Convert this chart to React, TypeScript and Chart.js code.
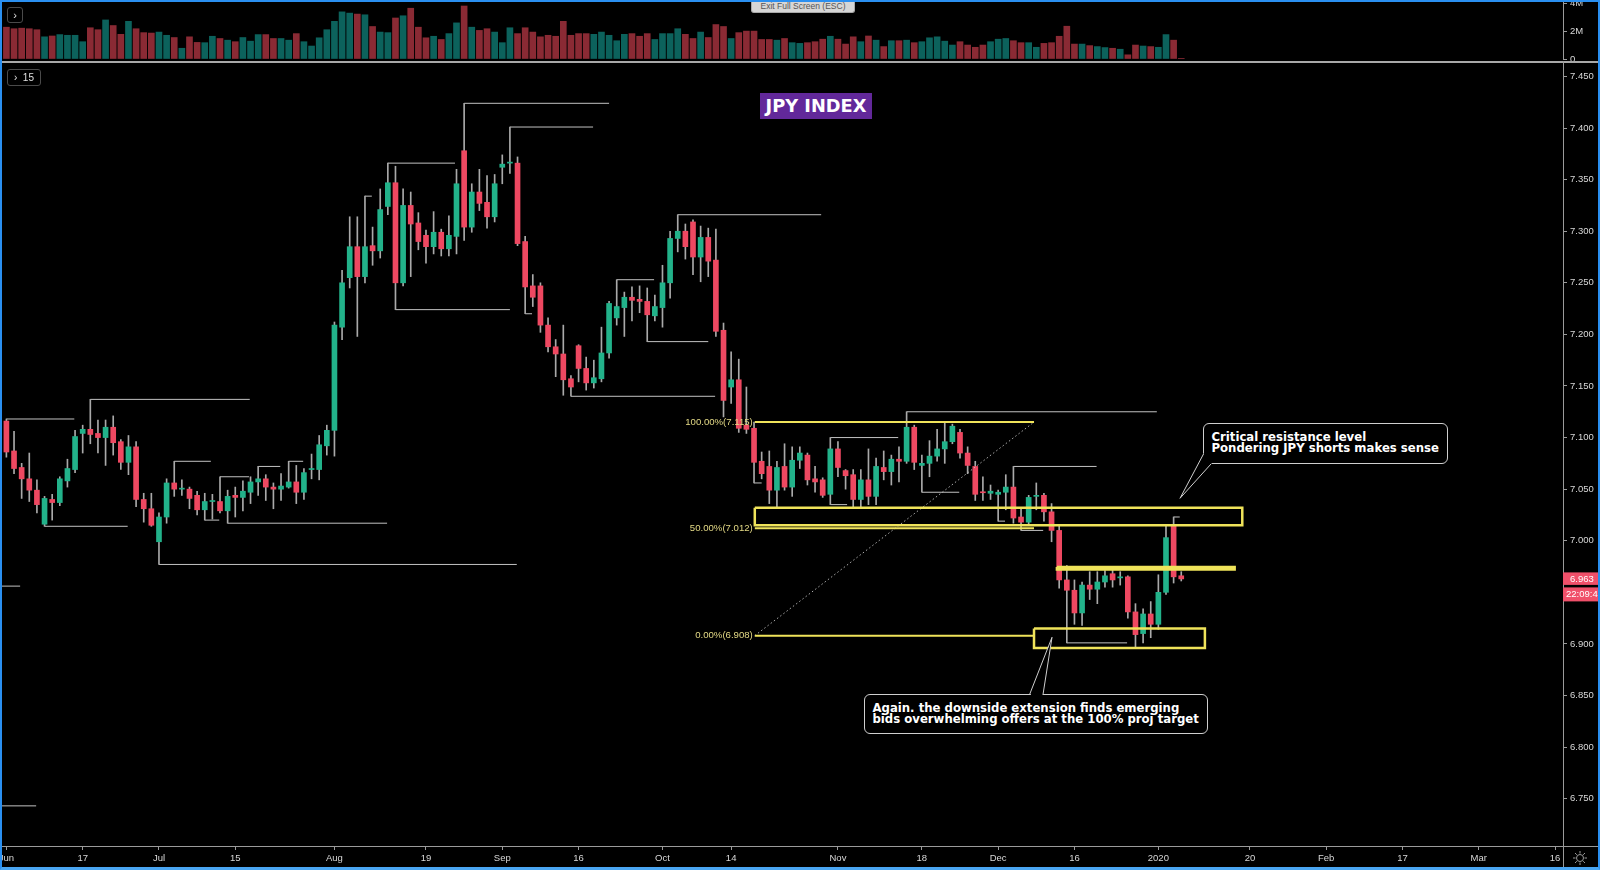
import React, { useEffect, useRef } from "react";
import { Chart, registerables } from "chart.js";

Chart.register(...registerables);

// ---------- DATA (daily bars, index 0 = 3 Jun 2019) ----------
const OPEN = [
  7.116, 7.087, 7.071, 7.060, 7.049, 7.016, 7.040, 7.037, 7.058, 7.069,
  7.104, 7.108, 7.104, 7.100, 7.110, 7.096, 7.076, 7.091, 7.040, 7.031,
  6.999, 7.023, 7.056, 7.050, 7.050, 7.044, 7.030, 7.038, 7.038, 7.029,
  7.044, 7.042, 7.047, 7.057, 7.060, 7.052, 7.050, 7.052, 7.057, 7.047,
  7.069, 7.069, 7.092, 7.107, 7.207, 7.255, 7.285, 7.256, 7.286, 7.281,
  7.324, 7.347, 7.250, 7.325, 7.308, 7.296, 7.285, 7.299, 7.283, 7.295,
  7.378, 7.304, 7.338, 7.328, 7.314, 7.362, 7.366, 7.366, 7.290, 7.247,
  7.247, 7.209, 7.188, 7.181, 7.157, 7.189, 7.167, 7.153, 7.157, 7.182,
  7.216, 7.226, 7.236, 7.234, 7.232, 7.218, 7.226, 7.250, 7.293, 7.300,
  7.309, 7.275, 7.294, 7.272, 7.204, 7.149, 7.156, 7.112, 7.109, 7.077,
  7.072, 7.049, 7.072, 7.052, 7.078, 7.083, 7.060, 7.059, 7.045, 7.089,
  7.068, 7.064, 7.040, 7.059, 7.043, 7.071, 7.067, 7.079, 7.077, 7.110,
  7.073, 7.075, 7.082, 7.089, 7.096, 7.105, 7.085, 7.072, 7.047, 7.046,
  7.045, 7.047, 7.052, 7.023, 7.018, 7.043, 7.044, 7.028, 7.010, 6.962,
  6.952, 6.930, 6.957, 6.953, 6.960, 6.968, 6.964, 6.965, 6.931, 6.910,
  6.929, 6.919, 6.950, 7.014, 6.966,
];
const HIGH = [
  7.118, 7.106, 7.075, 7.085, 7.059, 7.043, 7.045, 7.062, 7.079, 7.107,
  7.112, 7.137, 7.117, 7.117, 7.121, 7.098, 7.102, 7.096, 7.046, 7.046,
  7.027, 7.060, 7.077, 7.059, 7.052, 7.048, 7.046, 7.045, 7.062, 7.049,
  7.052, 7.058, 7.062, 7.072, 7.064, 7.056, 7.065, 7.077, 7.073, 7.070,
  7.084, 7.102, 7.112, 7.212, 7.262, 7.314, 7.314, 7.334, 7.304, 7.341,
  7.366, 7.363, 7.341, 7.338, 7.318, 7.301, 7.319, 7.302, 7.315, 7.360,
  7.424, 7.346, 7.360, 7.354, 7.355, 7.374, 7.401, 7.372, 7.295, 7.258,
  7.250, 7.216, 7.195, 7.209, 7.160, 7.190, 7.178, 7.175, 7.207, 7.232,
  7.253, 7.241, 7.246, 7.247, 7.245, 7.238, 7.267, 7.300, 7.316, 7.307,
  7.311, 7.305, 7.303, 7.302, 7.211, 7.183, 7.176, 7.149, 7.115, 7.086,
  7.087, 7.077, 7.094, 7.091, 7.091, 7.085, 7.072, 7.061, 7.100, 7.096,
  7.069, 7.069, 7.069, 7.089, 7.080, 7.087, 7.083, 7.091, 7.125, 7.112,
  7.083, 7.097, 7.108, 7.114, 7.113, 7.108, 7.091, 7.077, 7.062, 7.054,
  7.049, 7.064, 7.072, 7.031, 7.044, 7.056, 7.046, 7.036, 7.014, 6.976,
  6.962, 6.960, 6.970, 6.970, 6.971, 6.975, 6.970, 6.966, 6.939, 6.934,
  6.941, 6.967, 7.014, 7.023, 6.970,
];
const LOW = [
  7.081, 7.065, 7.041, 7.038, 7.027, 7.014, 7.020, 7.034, 7.052, 7.066,
  7.085, 7.094, 7.085, 7.073, 7.083, 7.069, 7.064, 7.033, 7.018, 7.014,
  6.977, 7.017, 7.043, 7.044, 7.031, 7.025, 7.020, 7.021, 7.027, 7.017,
  7.023, 7.029, 7.036, 7.044, 7.039, 7.031, 7.039, 7.051, 7.036, 7.040,
  7.060, 7.059, 7.083, 7.082, 7.195, 7.245, 7.198, 7.250, 7.267, 7.274,
  7.316, 7.224, 7.247, 7.256, 7.282, 7.269, 7.278, 7.276, 7.276, 7.278,
  7.291, 7.299, 7.320, 7.303, 7.309, 7.346, 7.356, 7.286, 7.220, 7.227,
  7.202, 7.183, 7.159, 7.141, 7.140, 7.154, 7.146, 7.148, 7.154, 7.177,
  7.209, 7.198, 7.213, 7.221, 7.193, 7.213, 7.207, 7.235, 7.280, 7.273,
  7.258, 7.251, 7.256, 7.198, 7.120, 7.133, 7.105, 7.104, 7.056, 7.060,
  7.036, 7.033, 7.049, 7.043, 7.070, 7.054, 7.047, 7.042, 7.035, 7.062,
  7.050, 7.032, 7.033, 7.035, 7.035, 7.059, 7.054, 7.057, 7.075, 7.069,
  7.047, 7.062, 7.077, 7.075, 7.094, 7.080, 7.065, 7.039, 7.039, 7.040,
  7.019, 7.030, 7.017, 7.010, 7.015, 7.030, 7.019, 6.999, 6.954, 6.901,
  6.919, 6.918, 6.943, 6.939, 6.955, 6.955, 6.957, 6.925, 6.897, 6.901,
  6.906, 6.914, 6.948, 6.959, 6.961,
];
const CLOSE = [
  7.086, 7.070, 7.060, 7.049, 7.035, 7.041, 7.037, 7.060, 7.070, 7.101,
  7.108, 7.103, 7.100, 7.110, 7.095, 7.076, 7.091, 7.040, 7.031, 7.015,
  7.023, 7.056, 7.050, 7.0505, 7.041, 7.030, 7.038, 7.0385, 7.029, 7.043,
  7.042, 7.048, 7.057, 7.060, 7.052, 7.050, 7.053, 7.057, 7.047, 7.066,
  7.070, 7.093, 7.107, 7.209, 7.250, 7.285, 7.256, 7.285, 7.281, 7.321,
  7.347, 7.250, 7.325, 7.307, 7.290, 7.285, 7.299, 7.283, 7.296, 7.346,
  7.304, 7.338, 7.327, 7.314, 7.346, 7.365, 7.367, 7.288, 7.246, 7.236,
  7.209, 7.188, 7.181, 7.156, 7.149, 7.167, 7.153, 7.158, 7.182, 7.230,
  7.227, 7.236, 7.233, 7.232, 7.219, 7.227, 7.250, 7.293, 7.300, 7.285,
  7.275, 7.294, 7.271, 7.203, 7.136, 7.156, 7.109, 7.108, 7.076, 7.065,
  7.049, 7.071, 7.052, 7.078, 7.085, 7.059, 7.057, 7.044, 7.089, 7.071,
  7.063, 7.040, 7.059, 7.043, 7.072, 7.067, 7.079, 7.077, 7.110, 7.076,
  7.075, 7.082, 7.089, 7.096, 7.111, 7.085, 7.073, 7.045, 7.0465, 7.048,
  7.047, 7.052, 7.022, 7.018, 7.042, 7.044, 7.028, 7.010, 6.962, 6.952,
  6.930, 6.957, 6.953, 6.960, 6.966, 6.962, 6.965, 6.931, 6.909, 6.929,
  6.919, 6.950, 7.003, 6.965, 6.963,
];
// volume in millions
const VOLUME_M = [
  2.28, 2.17, 2.21, 2.17, 2.1, 1.59, 1.65, 1.75, 1.7, 1.7,
  1.24, 2.24, 2.1, 2.8, 2.4, 1.77, 2.7, 2.17, 1.89, 1.86,
  1.93, 1.7, 1.54, 0.77, 1.59, 1.19, 1.17, 1.63, 1.47, 1.35,
  1.24, 1.54, 1.28, 1.75, 1.75, 1.47, 1.47, 1.35, 1.82, 1.24,
  0.93, 1.52, 2.1, 2.7, 3.38, 3.29, 3.22, 3.17, 2.33, 1.93,
  1.89, 2.94, 3.1, 3.64, 2.28, 1.52, 1.63, 1.4, 1.82, 2.59,
  3.8, 2.28, 2.05, 2.17, 1.93, 1.17, 2.24, 1.82, 2.24, 1.93,
  1.59, 1.7, 1.63, 2.7, 1.7, 1.82, 1.82, 1.77, 1.93, 1.7,
  1.31, 1.77, 1.82, 1.63, 1.82, 1.4, 1.82, 1.82, 2.17, 1.77,
  1.47, 1.93, 1.54, 2.47, 2.33, 1.47, 1.89, 2.0, 2.0, 1.4,
  1.4, 1.35, 1.47, 1.17, 1.12, 1.17, 1.24, 1.42, 1.63, 1.42,
  1.07, 1.59, 1.24, 1.65, 1.35, 0.89, 1.31, 1.31, 1.35, 1.17,
  1.24, 1.52, 1.59, 1.28, 1.0, 1.24, 1.0, 0.84, 1.0, 1.24,
  1.42, 1.47, 1.31, 1.17, 1.17, 0.84, 1.12, 1.17, 1.63, 2.35,
  1.07, 1.07, 0.96, 0.89, 0.82, 0.77, 0.7, 0.3, 1.0, 0.93,
  0.89, 0.84, 1.75, 1.35, 0.05,
];

const X_TICK_INDEX = [0, 10, 20, 30, 43, 55, 65, 75, 86, 95, 109, 120, 130, 140, 151, 163, 173, 183, 193, 203];
const X_TICK_LABELS = ["Jun", "17", "Jul", "15", "Aug", "19", "Sep", "16", "Oct", "14", "Nov", "18", "Dec", "16", "2020", "20", "Feb", "17", "Mar", "16"];
const PRICE_TICKS = [6.75, 6.8, 6.85, 6.9, 6.95, 7.0, 7.05, 7.1, 7.15, 7.2, 7.25, 7.3, 7.35, 7.4, 7.45];
const VOLUME_TICKS = [0, 2, 4];
const VOLUME_TICK_LABELS = ["0", "2M", "4M"];

// swing-level lines: price, from bar, to bar
const LEVEL_PRICE = [7.118, 7.137, 7.014, 6.977, 7.077, 7.020, 7.062, 7.017, 7.072, 7.077, 7.334, 7.366, 7.224, 7.424, 7.401, 7.220, 7.140, 7.253, 7.193, 7.316, 7.056, 7.100, 7.125, 7.047, 7.035, 7.032, 7.019, 7.072, 7.010, 6.901, 6.975, 7.023, 6.956, 6.743];
const LEVEL_FROM = [0, 11, 5, 20, 22, 26, 28, 29, 33, 37, 47, 50, 51, 60, 66, 68, 74, 80, 84, 88, 98, 108, 118, 120, 108, 111, 130, 132, 133, 139, 145, 153, -1, -1];
const LEVEL_TO = [8.9, 31.9, 15.9, 66.9, 26.8, 27.9, 31.8, 49.9, 35.9, 38.9, 47.9, 58.8, 66.0, 79.0, 76.9, 68.9, 92.9, 84.9, 92.0, 106.8, 99.0, 116.9, 150.8, 124.9, 110.2, 125.9, 130.9, 142.9, 135.9, 146.9, 149.9, 153.8, 1.8, 3.9];

// fibonacci projection
const FIB_LABELS = ["100.00%", "50.00%", "0.00%"];
const FIB_PRICES = [7.115, 7.012, 6.908];
const FIB_FROM = 98.1;
const FIB_TO = 134.7;

// yellow zones
const ZONE_FROM = [98.1, 137.7, 134.7];
const ZONE_TO = [162.0, 161.0, 157.1];
const ZONE_TOP = [7.032, 6.9745, 6.915];
const ZONE_BOTTOM = [7.015, 6.9722, 6.896];

// ---------- STYLE ----------
const UP = "#22b28a";
const DOWN = "#ee4861";
const VOL_UP = "#0c625c";
const VOL_DOWN = "#8a2a34";
const WICK = "#a9a9a9";
const LEVEL = "rgba(215,215,215,0.9)";
const YELLOW = "#efe35a";
const FIB_TEXT = "#e3d985";
const AXIS_LINE = "#9a9a9a";
const AXIS_TEXT = "#d8d8d8";
const TICK_FONT = { family: "'Liberation Sans', Arial, sans-serif", size: 9.5 };

const X_MIN = -0.839;
const X_MAX = 204.04;
const Y_MIN = 6.7041;
const Y_MAX = 7.465;
const VOL_MAX = 4.23;

export default function App() {
  const volRef = useRef<HTMLCanvasElement>(null);
  const priceRef = useRef<HTMLCanvasElement>(null);

  useEffect(() => {
    document.body.style.margin = "0";
    document.body.style.background = "#000";
    const isUp = (i: number) => CLOSE[i] >= OPEN[i];

    const xScaleBase: any = {
      type: "linear",
      min: X_MIN,
      max: X_MAX,
      offset: false,
    };

    const volChart = new Chart(volRef.current as HTMLCanvasElement, {
      type: "bar",
      data: {
        datasets: [
          {
            data: VOLUME_M.map((v, i) => ({ x: i, y: v })) as any,
            backgroundColor: VOLUME_M.map((_, i) => (isUp(i) ? VOL_UP : VOL_DOWN)),
            barThickness: 6,
            grouped: false,
          } as any,
        ],
      },
      options: {
        animation: false,
        responsive: false,
        events: [],
        layout: { padding: { left: 0, right: 0, top: 0, bottom: 5 } },
        plugins: { legend: { display: false }, tooltip: { enabled: false } },
        scales: {
          x: { ...xScaleBase, display: false, grid: { offset: false } },
          y: {
            type: "linear",
            position: "right",
            min: 0,
            max: VOL_MAX,
            afterBuildTicks: (s: any) => {
              s.ticks = VOLUME_TICKS.map((v) => ({ value: v }));
            },
            afterFit: (s: any) => {
              s.width = 37;
              s.paddingTop = 0;
              s.paddingBottom = 0;
            },
            ticks: {
              color: AXIS_TEXT,
              font: TICK_FONT,
              padding: 3,
              callback: (v: any) => VOLUME_TICK_LABELS[VOLUME_TICKS.indexOf(Number(v))] ?? "",
            },
            grid: { drawOnChartArea: false, tickLength: 4, color: AXIS_LINE },
            border: { display: true, color: AXIS_LINE },
          } as any,
        },
      },
    });

    const levelData: any[] = [];
    LEVEL_PRICE.forEach((p, k) => {
      levelData.push({ x: LEVEL_FROM[k], y: p }, { x: LEVEL_TO[k], y: p }, { x: LEVEL_TO[k], y: null });
    });
    const fibData: any[] = [];
    FIB_PRICES.forEach((p) => {
      fibData.push({ x: FIB_FROM, y: p }, { x: FIB_TO, y: p }, { x: FIB_TO, y: null });
    });
    const zoneData: any[] = [];
    ZONE_FROM.forEach((x1, k) => {
      const x2 = ZONE_TO[k];
      const t = ZONE_TOP[k];
      const b = ZONE_BOTTOM[k];
      zoneData.push({ x: x1, y: t }, { x: x2, y: t }, { x: x2, y: b }, { x: x1, y: b }, { x: x1, y: t }, { x: x1, y: null });
    });
    const trendData = [
      { x: FIB_FROM, y: FIB_PRICES[2] },
      { x: FIB_TO, y: FIB_PRICES[0] },
    ];

    const overlayPlugin = {
      id: "overlay",
      afterDatasetsDraw(chart: any) {
        const ctx = chart.ctx;
        const xs = chart.scales.x;
        const ys = chart.scales.y;
        ctx.save();
        ctx.font = "9.6px 'Liberation Sans', Arial, sans-serif";
        ctx.fillStyle = FIB_TEXT;
        ctx.textAlign = "right";
        ctx.textBaseline = "middle";
        FIB_PRICES.forEach((p, k) => {
          ctx.fillText(`${FIB_LABELS[k]}(${p.toFixed(3)})`, xs.getPixelForValue(FIB_FROM) - 2, ys.getPixelForValue(p));
        });
        ctx.restore();
      },
      afterDraw(chart: any) {
        const ctx = chart.ctx;
        const ys = chart.scales.y;
        const last = CLOSE[CLOSE.length - 1];
        const y = ys.getPixelForValue(last);
        const left = chart.chartArea.right;
        const w = chart.width - left;
        ctx.save();
        ctx.fillStyle = "#f0506a";
        ctx.fillRect(left, y - 6.5, w, 12.5);
        ctx.fillRect(left, y + 8.5, w, 14);
        ctx.fillStyle = "#ffffff";
        ctx.font = "9.5px 'Liberation Sans', Arial, sans-serif";
        ctx.textAlign = "left";
        ctx.textBaseline = "middle";
        ctx.fillText(last.toFixed(3), left + 7, y);
        ctx.fillText("22:09:45", left + 3, y + 15.5);
        ctx.restore();
      },
    };

    const priceChart = new Chart(priceRef.current as HTMLCanvasElement, {
      type: "bar",
      data: {
        datasets: [
          {
            type: "line",
            data: zoneData,
            borderColor: YELLOW,
            borderWidth: 2.5,
            pointRadius: 0,
            fill: false,
            spanGaps: false,
            order: 0,
          } as any,
          {
            type: "line",
            data: fibData,
            borderColor: YELLOW,
            borderWidth: 2,
            pointRadius: 0,
            fill: false,
            spanGaps: false,
            order: 0,
          } as any,
          {
            type: "line",
            data: trendData,
            borderColor: "rgba(200,200,200,0.85)",
            borderWidth: 1,
            borderDash: [1.5, 2.5],
            pointRadius: 0,
            fill: false,
            order: 1,
          } as any,
          {
            type: "bar",
            data: CLOSE.map((c, i) => ({ x: i, y: [OPEN[i], c] })) as any,
            backgroundColor: CLOSE.map((_, i) => (isUp(i) ? UP : DOWN)),
            barThickness: 5,
            minBarLength: 1,
            grouped: false,
            order: 2,
          } as any,
          {
            type: "bar",
            data: CLOSE.map((_, i) => ({ x: i, y: [LOW[i], HIGH[i]] })) as any,
            backgroundColor: WICK,
            barThickness: 1,
            grouped: false,
            order: 3,
          } as any,
          {
            type: "line",
            data: levelData,
            borderColor: LEVEL,
            borderWidth: 1,
            pointRadius: 0,
            fill: false,
            spanGaps: false,
            order: 4,
          } as any,
        ],
      },
      options: {
        animation: false,
        responsive: false,
        events: [],
        layout: { padding: 0 },
        plugins: { legend: { display: false }, tooltip: { enabled: false } },
        scales: {
          x: {
            ...xScaleBase,
            afterBuildTicks: (s: any) => {
              s.ticks = X_TICK_INDEX.map((v) => ({ value: v }));
            },
            afterFit: (s: any) => {
              s.height = 24;
              s.paddingLeft = 0;
              s.paddingRight = 0;
            },
            ticks: {
              autoSkip: false,
              maxRotation: 0,
              minRotation: 0,
              color: AXIS_TEXT,
              font: TICK_FONT,
              padding: 3,
              callback: (v: any) => X_TICK_LABELS[X_TICK_INDEX.indexOf(Number(v))] ?? "",
            },
            grid: { offset: false, drawOnChartArea: false, tickLength: 4, color: AXIS_LINE },
            border: { display: true, color: AXIS_LINE },
          },
          y: {
            type: "linear",
            position: "right",
            min: Y_MIN,
            max: Y_MAX,
            afterBuildTicks: (s: any) => {
              s.ticks = PRICE_TICKS.map((v) => ({ value: v }));
            },
            afterFit: (s: any) => {
              s.width = 37;
              s.paddingTop = 0;
              s.paddingBottom = 0;
            },
            ticks: {
              color: AXIS_TEXT,
              font: TICK_FONT,
              padding: 3,
              callback: (v: any) => Number(v).toFixed(3),
            },
            grid: { drawOnChartArea: false, tickLength: 4, color: AXIS_LINE },
            border: { display: true, color: AXIS_LINE },
          },
        } as any,
      },
      plugins: [overlayPlugin],
    });

    return () => {
      volChart.destroy();
      priceChart.destroy();
    };
  }, []);

  const noteText: React.CSSProperties = {
    position: "absolute",
    background: "#000",
    border: "1px solid #cfcfcf",
    borderRadius: 6,
    color: "#fff",
    fontFamily: "'DejaVu Sans', Verdana, sans-serif",
    fontWeight: "bold",
    fontSize: 11.7,
    whiteSpace: "pre",
    boxSizing: "border-box",
  };

  return (
    <div
      style={{
        position: "fixed",
        left: 0,
        top: 0,
        width: 1600,
        height: 870,
        background: "#000",
        overflow: "hidden",
        fontFamily: "'Liberation Sans', Arial, sans-serif",
      }}
    >
      <canvas ref={volRef} width={1600} height={64} style={{ position: "absolute", left: 0, top: 0, width: 1600, height: 64 }} />
      <div style={{ position: "absolute", left: 0, top: 60.5, width: 1600, height: 2, background: "#a8a8a8" }} />
      <canvas ref={priceRef} width={1600} height={809} style={{ position: "absolute", left: 0, top: 61, width: 1600, height: 809 }} />
      <div style={{ position: "absolute", left: 1563, top: 845.5, width: 37, height: 1, background: AXIS_LINE }} />
      <div style={{ position: "absolute", left: 1562.5, top: 846, width: 1, height: 22, background: AXIS_LINE }} />

      {/* title */}
      <div
        style={{
          position: "absolute",
          left: 760,
          top: 93,
          width: 112,
          height: 26,
          background: "#62289a",
          color: "#fff",
          fontFamily: "'DejaVu Sans', Verdana, sans-serif",
          fontWeight: "bold",
          fontSize: 17.8,
          lineHeight: "26px",
          textAlign: "center",
          whiteSpace: "nowrap",
        }}
      >
        JPY INDEX
      </div>

      {/* callouts */}
      <div style={{ ...noteText, left: 1203, top: 423, width: 245, height: 41, padding: "7.8px 0 0 7.5px", lineHeight: "11.6px" }}>
        {"Critical resistance level\nPondering JPY shorts makes sense"}
      </div>
      <div style={{ ...noteText, left: 864, top: 694, width: 344, height: 40, padding: "7.7px 0 0 7.5px", lineHeight: "11px" }}>
        {"Again. the downside extension finds emerging\nbids overwhelming offers at the 100% proj target"}
      </div>
      <svg width={1600} height={870} style={{ position: "absolute", left: 0, top: 0, pointerEvents: "none" }}>
        <polygon points="1204.5,452 1212,463 1180,498" fill="#000" />
        <line x1={1203.5} y1={454} x2={1180} y2={498.3} stroke="#cfcfcf" strokeWidth={1} />
        <line x1={1211} y1={464} x2={1180} y2={498.3} stroke="#cfcfcf" strokeWidth={1} />
        <polygon points="1030.5,695.5 1042.5,695.5 1052,637.5" fill="#000" />
        <line x1={1029.6} y1={694.5} x2={1052} y2={637.3} stroke="#cfcfcf" strokeWidth={1} />
        <line x1={1043} y1={694.5} x2={1052} y2={637.3} stroke="#cfcfcf" strokeWidth={1} />
        {/* gear icon */}
        <g stroke="#9a9a9a" strokeWidth={1} fill="none">
          <circle cx={1580} cy={858} r={3.5} />
          <line x1={1580} y1={851} x2={1580} y2={853.5} />
          <line x1={1580} y1={862.5} x2={1580} y2={865} />
          <line x1={1573} y1={858} x2={1575.5} y2={858} />
          <line x1={1584.5} y1={858} x2={1587} y2={858} />
          <line x1={1575} y1={853} x2={1576.8} y2={854.8} />
          <line x1={1583.2} y1={861.2} x2={1585} y2={863} />
          <line x1={1585} y1={853} x2={1583.2} y2={854.8} />
          <line x1={1576.8} y1={861.2} x2={1575} y2={863} />
        </g>
      </svg>

      {/* toolbar bits */}
      <div
        style={{
          position: "absolute",
          left: 7,
          top: 7,
          width: 16,
          height: 16,
          boxSizing: "border-box",
          border: "1px solid #4a4a4a",
          borderRadius: 3,
          color: "#e0e0e0",
          fontSize: 11,
          lineHeight: "14px",
          textAlign: "center",
        }}
      >
        ›
      </div>
      <div
        style={{
          position: "absolute",
          left: 7,
          top: 69,
          width: 34,
          height: 17,
          boxSizing: "border-box",
          border: "1px solid #4a4a4a",
          borderRadius: 3,
          color: "#e0e0e0",
          fontSize: 10,
          lineHeight: "15px",
          textAlign: "center",
          whiteSpace: "pre",
        }}
      >
        {"›  15"}
      </div>
      <div
        style={{
          position: "absolute",
          left: 751,
          top: 0,
          width: 104,
          height: 13,
          boxSizing: "border-box",
          background: "#d6d6d6",
          border: "1px solid #a8a8a8",
          borderTop: "none",
          borderRadius: "0 0 3px 3px",
          color: "#555",
          fontSize: 8.5,
          lineHeight: "12px",
          textAlign: "center",
          whiteSpace: "nowrap",
        }}
      >
        Exit Full Screen (ESC)
      </div>

      {/* window frame */}
      <div
        style={{
          position: "absolute",
          left: 0,
          top: 0,
          width: 1600,
          height: 870,
          boxSizing: "border-box",
          borderTop: "2px solid #2a8ff0",
          borderLeft: "2px solid #2a8ff0",
          borderRight: "2px solid #2a8ff0",
          borderBottom: "3px solid #4aa6f2",
          pointerEvents: "none",
        }}
      />
    </div>
  );
}
